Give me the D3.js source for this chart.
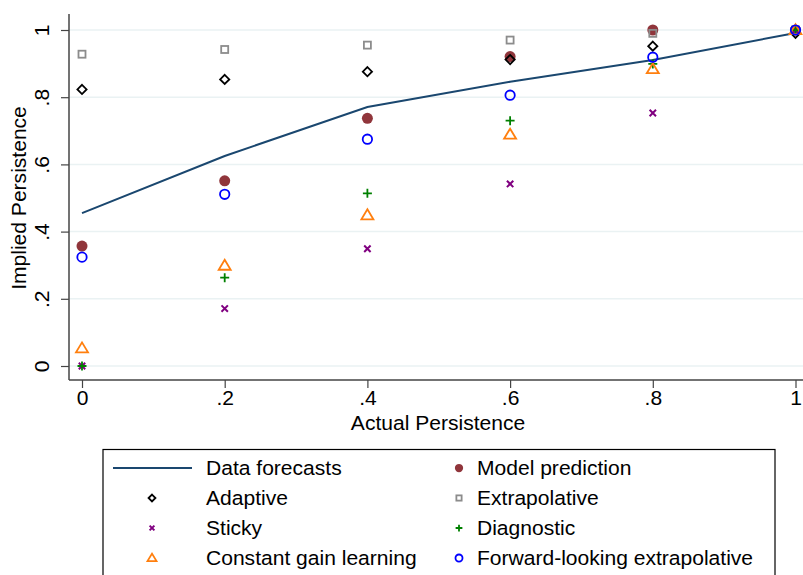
<!DOCTYPE html>
<html>
<head>
<meta charset="utf-8">
<script src="https://cdn.jsdelivr.net/npm/d3@7"></script>
<style>
  body { margin: 0; background: #fff; }
  svg { display: block; font-family: "Liberation Sans", Arial, sans-serif; }
</style>
</head>
<body>
<svg id="chart"></svg>
<script>
const actual = [0, 0.2, 0.4, 0.6, 0.8, 1];
const dataForecasts = [0.455, 0.625, 0.771, 0.846, 0.911, 0.991];
const modelPrediction = [0.357, 0.551, 0.737, 0.921, 1.0, 1.0];
const adaptive = [0.823, 0.853, 0.876, 0.912, 0.952, 0.99];
const extrapolative = [0.928, 0.942, 0.955, 0.970, 0.99, 1.0];
const sticky = [0, 0.171, 0.349, 0.542, 0.753, 1.0];
const diagnostic = [0, 0.263, 0.514, 0.730, 0.899, 1.0];
const constantGain = [0.053, 0.299, 0.449, 0.689, 0.884, 1.0];
const forwardLooking = [0.324, 0.511, 0.675, 0.806, 0.919, 1.0];
const xTicks = [0, 0.2, 0.4, 0.6, 0.8, 1];
const yTicks = [0, 0.2, 0.4, 0.6, 0.8, 1];

const W = 803, H = 575;
const FS = 19.5, SX = 1.08; // font size and horizontal stretch of the text
const svg = d3.select("#chart").attr("width", W).attr("height", H);

const x = d3.scaleLinear().domain([0, 1]).range([82, 795.5]);
const y = d3.scaleLinear().domain([0, 1]).range([366, 30]);
const fmt = d => d === 0 ? "0" : d === 1 ? "1" : String(d).replace(/^0/, "");

// grid
svg.append("g").selectAll("line").data(yTicks).join("line")
  .attr("x1", 69).attr("x2", W)
  .attr("y1", d => y(d)).attr("y2", d => y(d))
  .attr("stroke", "#eaf2f3").attr("stroke-width", 1.5);

// y axis
const yAxis = svg.append("g").attr("transform", "translate(69,0)")
  .call(d3.axisLeft(y).tickValues(yTicks).tickSize(8).tickFormat(fmt));
yAxis.select(".domain").attr("d", "M0,14V380").attr("stroke", "#444").attr("stroke-width", 1.5);
yAxis.selectAll(".tick line").attr("stroke", "#444").attr("stroke-width", 1.2);
yAxis.selectAll(".tick text")
  .attr("font-size", FS).attr("fill", "#000")
  .attr("x", 0).attr("dy", 0)
  .attr("text-anchor", "middle")
  .attr("transform", `translate(-20,0) rotate(-90) scale(${SX},1)`);

// x axis
const xAxis = svg.append("g").attr("transform", "translate(0,380)")
  .call(d3.axisBottom(x).tickValues(xTicks).tickSize(8).tickFormat(fmt));
xAxis.select(".domain").attr("d", `M69,0H${W}`).attr("stroke", "#444").attr("stroke-width", 1.5);
xAxis.selectAll(".tick line").attr("stroke", "#444").attr("stroke-width", 1.2);
xAxis.selectAll(".tick text").attr("font-size", FS).attr("fill", "#000").attr("y", 11)
  .attr("transform", `scale(${SX},1)`);

svg.append("text").attr("transform", `translate(438,430) scale(${SX},1)`).attr("text-anchor", "middle")
  .attr("font-size", FS).text("Actual Persistence");
svg.append("text").attr("transform", `translate(26,198) rotate(-90) scale(${SX},1)`).attr("text-anchor", "middle")
  .attr("font-size", FS).text("Implied Persistence");

// marker shapes
function marker(g, type, color, s) {
  switch (type) {
    case "circleFill":
      g.append("circle").attr("r", 5.5 * s).attr("fill", color); break;
    case "circle":
      g.append("circle").attr("r", 4.7 * s).attr("fill", "none").attr("stroke", color).attr("stroke-width", 1.8); break;
    case "diamond":
      g.append("path").attr("d", `M0,${-4.6*s}L${4.6*s},0L0,${4.6*s}L${-4.6*s},0Z`)
        .attr("fill", "none").attr("stroke", color).attr("stroke-width", 1.8); break;
    case "square":
      g.append("rect").attr("x", -3.5*s).attr("y", -3.5*s).attr("width", 7*s).attr("height", 7*s)
        .attr("fill", "none").attr("stroke", color).attr("stroke-width", 1.8); break;
    case "x":
      g.append("path").attr("d", `M${-3.2*s},${-3.2*s}L${3.2*s},${3.2*s}M${-3.2*s},${3.2*s}L${3.2*s},${-3.2*s}`)
        .attr("stroke", color).attr("stroke-width", 2); break;
    case "plus":
      g.append("path").attr("d", `M${-4.5*s},0H${4.5*s}M0,${-4.5*s}V${4.5*s}`)
        .attr("stroke", color).attr("stroke-width", 1.8); break;
    case "triangle":
      g.append("path").attr("d", `M0,${-5.8*s}L${6*s},${4.2*s}L${-6*s},${4.2*s}Z`)
        .attr("fill", "none").attr("stroke", color).attr("stroke-width", 1.8).attr("stroke-linejoin", "miter"); break;
  }
}

const series = [
  { name: "Model prediction", values: modelPrediction, type: "circleFill", color: "#90353b" },
  { name: "Adaptive", values: adaptive, type: "diamond", color: "#000000" },
  { name: "Extrapolative", values: extrapolative, type: "square", color: "#8c8c8c" },
  { name: "Sticky", values: sticky, type: "x", color: "#800080" },
  { name: "Diagnostic", values: diagnostic, type: "plus", color: "#008000" },
  { name: "Constant gain learning", values: constantGain, type: "triangle", color: "#ff7f0e" },
  { name: "Forward-looking extrapolative", values: forwardLooking, type: "circle", color: "#0000ff" }
];

// data forecasts line
svg.append("path")
  .datum(actual.map((a, i) => [a, dataForecasts[i]]))
  .attr("d", d3.line().x(d => x(d[0])).y(d => y(d[1])))
  .attr("fill", "none").attr("stroke", "#1a476f").attr("stroke-width", 2);

series.forEach(s => {
  svg.append("g").selectAll("g").data(s.values).join("g")
    .attr("transform", (d, i) => `translate(${x(actual[i])},${y(d)})`)
    .each(function () { marker(d3.select(this), s.type, s.color, 1); });
});

// legend
const lg = svg.append("g");
lg.append("rect").attr("x", 103).attr("y", 449.5).attr("width", 672).attr("height", 140)
  .attr("fill", "#fff").attr("stroke", "#000").attr("stroke-width", 1.2);

const legendItems = [
  { name: "Data forecasts", type: "line", color: "#1a476f" },
  series[0], series[1], series[2], series[3], series[4], series[5], series[6]
];
legendItems.forEach((item, i) => {
  const col = i % 2, row = Math.floor(i / 2);
  const cy = 468 + row * 30;
  const mx = col === 0 ? 152 : 459;
  const tx = col === 0 ? 206 : 477;
  const g = lg.append("g").attr("transform", `translate(${mx},${cy})`);
  if (item.type === "line") {
    g.append("line").attr("x1", -39).attr("x2", 40).attr("stroke", item.color).attr("stroke-width", 2);
  } else {
    marker(g, item.type, item.color, 0.75);
  }
  lg.append("text").attr("transform", `translate(${tx},${cy}) scale(${SX},1)`).attr("dy", "0.35em")
    .attr("font-size", FS).text(item.name);
});
</script>
</body>
</html>
